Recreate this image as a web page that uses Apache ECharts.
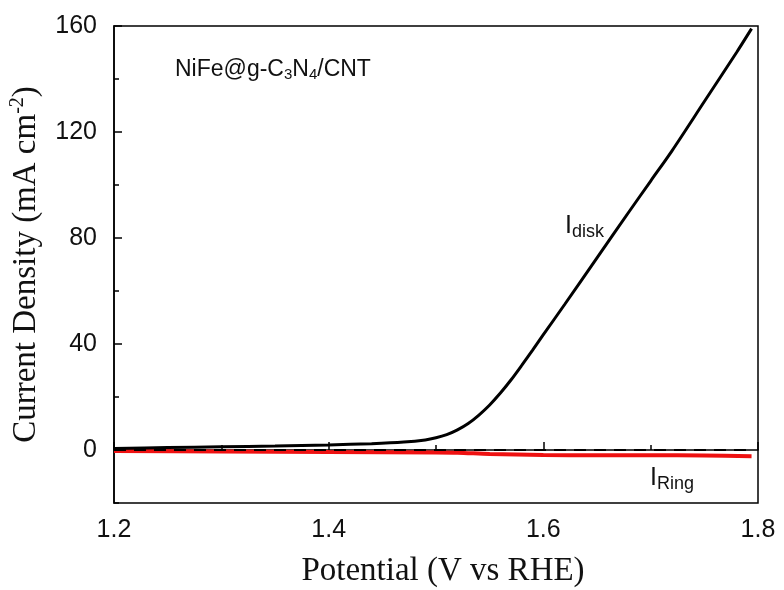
<!DOCTYPE html>
<html>
<head>
<meta charset="utf-8">
<script src="https://cdn.jsdelivr.net/npm/echarts@6/dist/echarts.min.js"></script>
<style>
  html, body { margin: 0; padding: 0; background: #fff; }
  #chart { width: 784px; height: 590px; }
</style>
</head>
<body>
<div id="chart"></div>
<script>
// potential (V vs RHE)
const diskX = [1.20, 1.25, 1.30, 1.35, 1.40, 1.44, 1.47, 1.49, 1.50, 1.51, 1.52, 1.53, 1.54, 1.55,
  1.56, 1.57, 1.58, 1.59, 1.60, 1.62, 1.65, 1.68, 1.70, 1.72, 1.75, 1.78, 1.794];
// disk current density (mA cm-2)
const diskY = [0.6, 0.9, 1.2, 1.5, 1.9, 2.4, 3.0, 3.8, 4.6, 5.8, 7.6, 10.0, 13.2, 17.0,
  21.5, 26.5, 32.0, 37.7, 43.5, 55.0, 72.5, 90.0, 101.5, 113.0, 131.5, 150.0, 159.0];

const ringX = [1.20, 1.30, 1.40, 1.50, 1.52, 1.55, 1.60, 1.65, 1.70, 1.75, 1.794];
const ringY = [-0.4, -0.6, -0.8, -0.9, -1.0, -1.5, -1.9, -2.0, -2.0, -2.1, -2.4];

const baseX = [1.20, 1.794];
const baseY = [0, 0];

const zip = (xs, ys) => xs.map((x, i) => [x, ys[i]]);

const chart = echarts.init(document.getElementById('chart'));

const sans = 'Arial, "Liberation Sans", sans-serif';
const serif = '"Times New Roman", "Liberation Serif", serif';

chart.setOption({
  backgroundColor: '#fff',
  animation: false,
  grid: [
    { left: 114, right: 26, top: 26, bottom: 87, show: true, borderColor: '#000', borderWidth: 1.5,
      outerBoundsMode: 'none', containLabel: false },
    // helper grid: only for the major y ticks/labels (0..160)
    { left: 114, right: 26, top: 26, bottom: 140, outerBoundsMode: 'none', containLabel: false }
  ],
  xAxis: [
    {
      type: 'value', gridIndex: 0, min: 1.2, max: 1.8, interval: 0.2,
      axisLine: { lineStyle: { color: '#000', width: 1.5 } },
      axisTick: { inside: true, length: 8, lineStyle: { color: '#000', width: 1.5 } },
      minorTick: { show: true, splitNumber: 2, length: 5, lineStyle: { color: '#000', width: 1.5 } },
      splitLine: { show: false },
      axisLabel: { color: '#111', fontFamily: sans, fontSize: 25, margin: 15,
        formatter: v => v.toFixed(1) },
      name: 'Potential (V vs RHE)', nameLocation: 'middle', nameGap: 52,
      nameTextStyle: { color: '#111', fontFamily: serif, fontSize: 33, padding: [0, 0, 0, 14] }
    },
    { type: 'value', gridIndex: 1, min: 1.2, max: 1.8, show: false }
  ],
  yAxis: [
    {
      type: 'value', gridIndex: 0, min: -20, max: 160, interval: 20,
      axisLine: { lineStyle: { color: '#000', width: 1.5 } },
      axisTick: { inside: true, length: 5, lineStyle: { color: '#000', width: 1.5 } },
      splitLine: { show: false },
      axisLabel: { show: false },
      name: '{a|Current Density (mA cm}{s|-2}{a|)}', nameLocation: 'middle', nameGap: 70,
      nameTextStyle: {
        rich: {
          a: { color: '#111', fontFamily: serif, fontSize: 33 },
          s: { color: '#111', fontFamily: serif, fontSize: 20, verticalAlign: 'top', padding: [0, 0, 16, 0] }
        }
      }
    },
    {
      type: 'value', gridIndex: 1, min: 0, max: 160, interval: 40,
      axisLine: { show: false },
      axisTick: { inside: true, length: 8, lineStyle: { color: '#000', width: 1.5 } },
      splitLine: { show: false },
      axisLabel: { color: '#111', fontFamily: sans, fontSize: 25, margin: 17 }
    }
  ],
  series: [
    {
      name: 'baseline', type: 'line', xAxisIndex: 0, yAxisIndex: 0,
      data: zip(baseX, baseY), showSymbol: false, z: 3,
      lineStyle: { color: '#000', width: 2, type: [12, 8] }
    },
    {
      name: 'I_Ring', type: 'line', xAxisIndex: 0, yAxisIndex: 0,
      data: zip(ringX, ringY), showSymbol: false, smooth: 0.3, z: 2,
      lineStyle: { color: '#ee1111', width: 4 }
    },
    {
      name: 'I_disk', type: 'line', xAxisIndex: 0, yAxisIndex: 0,
      data: zip(diskX, diskY), showSymbol: false, smooth: 0.3, z: 4,
      lineStyle: { color: '#000', width: 3 }
    }
  ],
  graphic: [
    {
      type: 'text', left: 175, top: 58,
      style: {
        text: '{a|NiFe@g-C}{b|3}{a|N}{b|4}{a|/CNT}',
        rich: {
          a: { fontFamily: sans, fontSize: 23, fill: '#111' },
          b: { fontFamily: sans, fontSize: 15, fill: '#111', padding: [10, 0, 0, 0] }
        }
      }
    },
    {
      type: 'text', left: 565, top: 214,
      style: {
        text: '{a|I}{b|disk}',
        rich: {
          a: { fontFamily: sans, fontSize: 25, fill: '#111' },
          b: { fontFamily: sans, fontSize: 18, fill: '#111', padding: [12, 0, 0, 0] }
        }
      }
    },
    {
      type: 'text', left: 650, top: 466,
      style: {
        text: '{a|I}{b|Ring}',
        rich: {
          a: { fontFamily: sans, fontSize: 25, fill: '#111' },
          b: { fontFamily: sans, fontSize: 18, fill: '#111', padding: [12, 0, 0, 0] }
        }
      }
    }
  ]
});
</script>
</body>
</html>
